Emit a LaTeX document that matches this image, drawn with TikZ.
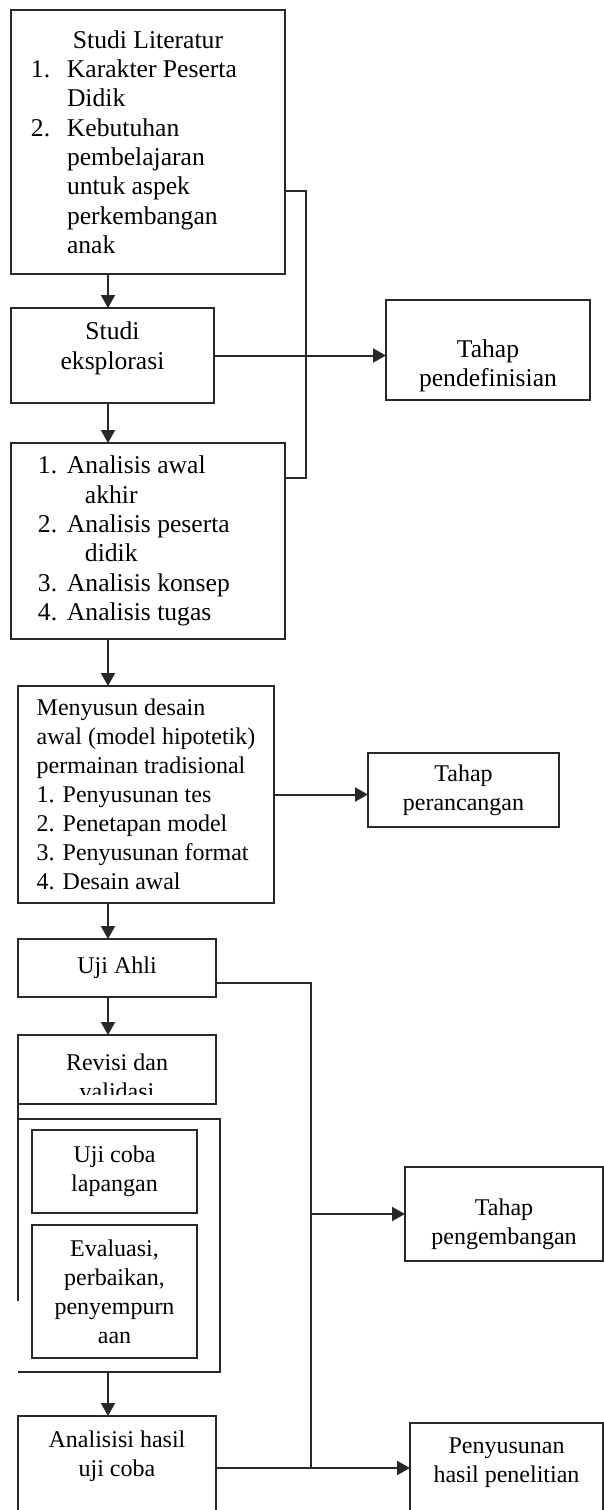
\documentclass[tikz,border=0pt]{standalone}
\usepackage{fontspec}
\setmainfont{Liberation Serif}
\usetikzlibrary{arrows.meta,positioning,calc}
\definecolor{linegray}{RGB}{40,40,40}

\begin{document}
\begin{tikzpicture}[
    >={Triangle[length=6.5pt,width=7pt]},
    bigtxt/.style={font=\fontsize{12.8pt}{14.65pt}\selectfont},
    smalltxt/.style={font=\fontsize{12pt}{14.5pt}\selectfont},
    box/.style={rectangle, draw=linegray, line width=1pt, inner sep=0pt, outer sep=0pt, align=center},
    conn/.style={draw=linegray, line width=1pt}
]
    \useasboundingbox (0,0) rectangle (302pt,-755pt);
    \clip (0,0) rectangle (302pt,-755pt);
    \coordinate (ax) at (54pt,0);

    % Studi literatur
    \node[box, bigtxt, anchor=north west, minimum width=137pt, minimum height=132pt,
          text width=117pt, inner xsep=10pt, align=flush left] (lit) at (5.5pt,-5pt) {%
        \hspace*{\fill}Studi Literatur\hspace*{\fill}\mbox{}\\
        \makebox[18pt][l]{1.}Karakter Peserta\\
        \hspace*{18pt}Didik\\
        \makebox[18pt][l]{2.}Kebutuhan\\
        \hspace*{18pt}pembelajaran\\
        \hspace*{18pt}untuk aspek\\
        \hspace*{18pt}perkembangan\\
        \hspace*{18pt}anak};

    % Studi eksplorasi
    \node[box, bigtxt, below right=17pt and 0pt of lit.south west, minimum width=101.5pt,
          minimum height=47.5pt] (eks) {Studi\\eksplorasi\rule[-10pt]{0pt}{10pt}};

    % Analisis
    \node[box, bigtxt, below right=20pt and 0pt of eks.south west, minimum width=137pt,
          minimum height=98pt, text width=110pt, inner xsep=13.5pt, align=flush left] (ana) {%
        \makebox[14.5pt][l]{1.}Analisis awal\\
        \hspace*{23.5pt}akhir\\
        \makebox[14.5pt][l]{2.}Analisis peserta\\
        \hspace*{23.5pt}didik\\
        \makebox[14.5pt][l]{3.}Analisis konsep\\
        \makebox[14.5pt][l]{4.}Analisis tugas};

    % Desain awal
    \node[box, smalltxt, below right=23.5pt and 3.5pt of ana.south west, minimum width=128pt,
          minimum height=108.5pt, align=left] (desain) {%
        Menyusun desain\\
        awal (model hipotetik)\\
        permainan tradisional\\
        1. Penyusunan tes\\
        2. Penetapan model\\
        3. Penyusunan format\\
        4. Desain awal};

    % Uji ahli dan revisi
    \node[box, smalltxt, below right=18pt and 0pt of desain.south west, minimum width=99pt,
          minimum height=29pt] (uji) {Uji Ahli};
    \node[box, below right=19pt and 0pt of uji.south west, minimum width=99pt,
          minimum height=34.5pt] (revisi) {};
    \begin{scope}
        \clip (revisi.north west) rectangle ([yshift=5pt]revisi.south east);
        \node[smalltxt, align=center, inner sep=0pt, below=9pt of revisi.north] (revisitxt) {Revisi dan\\validasi};
    \end{scope}

    % Uji coba group
    \node[inner sep=0pt, outer sep=0pt, below right=7.5pt and 0pt of revisi.south west,
          minimum width=101pt, minimum height=126.5pt] (grp) {};
    \node[box, smalltxt, below right=5.5pt and 7pt of grp.north west, minimum width=82.5pt,
          minimum height=41.5pt] (ujicoba) {Uji coba\\lapangan};
    \node[box, smalltxt, below=6pt of ujicoba, minimum width=82.5pt,
          minimum height=66.5pt] (eval) {Evaluasi,\\perbaikan,\\penyempurn\\aan};
    \draw[conn] (revisi.south west) -- ([yshift=-91pt]grp.north west);
    \draw[conn] (grp.north west) -- (grp.north east) -- (grp.south east) -- (grp.south west);

    % Analisis hasil
    \node[box, smalltxt, below right=22pt and 0pt of grp.south west, minimum width=99pt,
          minimum height=52pt] (hasil) {Analisisi hasil\\uji coba\rule[-14.5pt]{0pt}{14.5pt}};

    % Tahap
    \node[box, bigtxt, right=86pt of eks, yshift=2.75pt, minimum width=102pt,
          minimum height=50pt] (def) {\rule{0pt}{25pt}Tahap\\pendefinisian};
    \node[box, smalltxt, right=47pt of desain, yshift=2.25pt, minimum width=95.5pt,
          minimum height=37pt] (ranc) {Tahap\\perancangan};
    \node[box, smalltxt, right=92.5pt of grp, yshift=15.75pt, minimum width=99pt,
          minimum height=47pt] (peng) {\rule{0pt}{19pt}Tahap\\pengembangan};
    \node[box, smalltxt, below right=3.5pt and 97pt of hasil.north east, minimum width=96.5pt,
          minimum height=50pt] (pen) {Penyusunan\\hasil penelitian\rule[-13pt]{0pt}{13pt}};

    % Edges
    \draw[conn, ->] (lit.south -| ax) -- (eks.north -| ax);
    \draw[conn, ->] (eks.south -| ax) -- (ana.north -| ax);
    \draw[conn, ->] (ana.south -| ax) -- (desain.north -| ax);
    \draw[conn, ->] (desain.south -| ax) -- (uji.north -| ax);
    \draw[conn, ->] (uji.south -| ax) -- (revisi.north -| ax);
    \draw[conn, ->] (grp.south -| ax) -- (hasil.north -| ax);

    % To the stages
    \draw[conn] ([yshift=-24.5pt]lit.east) -- ++(10.5pt,0) |- ([yshift=31.5pt]ana.east);
    \draw[conn, ->] (eks.east) -- (eks.east -| def.west);
    \draw[conn, ->] (desain.east) -- (desain.east -| ranc.west);
    \coordinate (jn) at ([xshift=47.5pt]hasil.east);
    \draw[conn] ([yshift=-7.5pt]uji.east) -| (jn);
    \draw[conn, ->] (jn |- peng.west) -- (peng.west);
    \draw[conn, ->] (hasil.east) -- (hasil.east -| pen.west);
\end{tikzpicture}
\end{document}
